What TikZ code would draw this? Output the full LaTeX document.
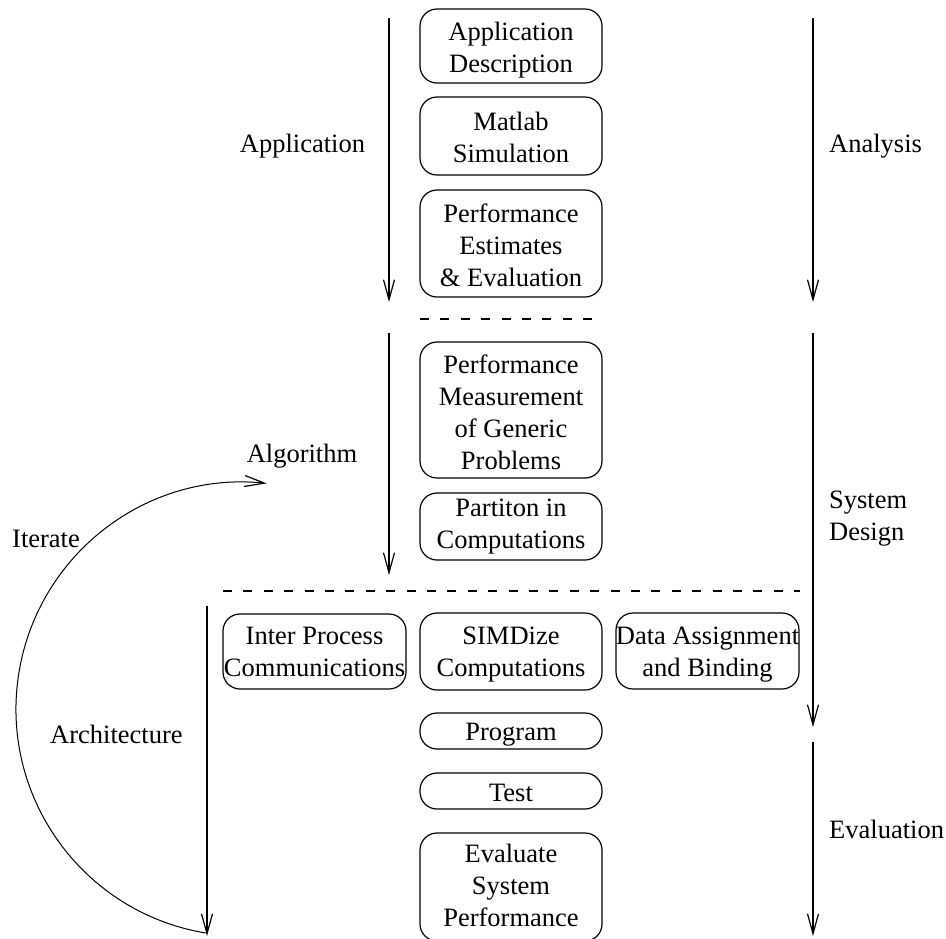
\documentclass[tikz,border=0pt]{standalone}
\usepackage{fontspec}
\setmainfont{Liberation Serif}
\usetikzlibrary{arrows.meta}
% a line that may stick out of its box, kept centred
\newcommand\ovr[1]{\makebox[0pt]{#1}}

\begin{document}
\begin{tikzpicture}[x=1pt,y=-1pt,
  every node/.style={font=\fontsize{26.5}{32}\selectfont},
  stage/.style={draw, line width=1.2pt, rounded corners=17pt, minimum width=182pt,
                inner sep=0pt},
  words/.style={inner sep=0pt, align=center},
  flow/.style={line width=1.2pt, -{Straight Barb[length=20pt,width=11pt,line width=1.2pt]}},
  sep/.style={line width=1.2pt, dash pattern=on 9pt off 11.4pt},
  tag/.style={inner sep=0pt},
]
\useasboundingbox (0,0) rectangle (946,938);

% ---- process steps (box, with its text set a little lower or higher) ----
\node[stage, minimum height=74pt,
      label={[words, yshift=-4pt]center:{Application\\Description}}]          (desc)    at (511,46)    {};
\node[stage, minimum height=78pt,
      label={[words, yshift=-1pt]center:{Matlab\\Simulation}}]                (matlab)  at (511,136)   {};
\node[stage, minimum height=107pt,
      label={[words, yshift=-1.5pt]center:{Performance\\Estimates\\\& Evaluation}}] (estim) at (511,243.5) {};
\node[stage, minimum height=136pt,
      label={[words, yshift=-2pt]center:{Performance\\Measurement\\of Generic\\Problems}}] (measure) at (511,410) {};
\node[stage, minimum height=67pt,
      label={[words]center:{Partiton in\\Computations}}]                      (part)    at (511,526.5) {};
\node[stage, minimum width=183pt, minimum height=75pt,
      label={[words, yshift=-0.5pt]center:{Inter Process\\\ovr{Communications}}}] (ipc) at (314.5,651.5) {};
\node[stage, minimum height=77pt,
      label={[words, yshift=-3.5pt]center:{SIMDize\\Computations}}]           (simd)    at (511,651.5) {};
\node[stage, minimum width=183pt, minimum height=76pt,
      label={[words, yshift=-4pt]center:{\ovr{Data Assignment}\\and Binding}}] (bind)   at (707.5,651) {};
\node[stage, minimum height=36pt,
      label={[words, yshift=-4pt]center:Program}]                              (prog)    at (511,731)   {};
\node[stage, minimum height=36pt,
      label={[words, yshift=-2pt]center:Test}]                                 (test)    at (511,791)   {};
\node[stage, minimum height=108pt,
      label={[words, yshift=2pt]center:{Evaluate\\System\\Performance}}]       (evalsys) at (511,887)   {};

% ---- phase separators ----------------------------------------------
\coordinate (s1a) at (420,319);  \coordinate (s1b) at (592,319);
\coordinate (s2a) at (223,591);  \coordinate (s2b) at (800,591);
\draw[sep] (s1a) -- (s1b);
\draw[sep] (s2a) -- (s2b);

% ---- phase arrows, left ----------------------------------------------
\coordinate (l1a) at (389,18);   \coordinate (l1b) at (389,302);
\coordinate (l2a) at (389,333);  \coordinate (l2b) at (389,575);
\coordinate (l3a) at (207,606);  \coordinate (l3b) at (207,936);
\draw[flow] (l1a) -- (l1b);
\draw[flow] (l2a) -- (l2b);
\draw[flow] (l3a) -- (l3b);

% ---- phase arrows, right ---------------------------------------------
\coordinate (r1a) at (813,18);   \coordinate (r1b) at (813,302);
\coordinate (r2a) at (813,333);  \coordinate (r2b) at (813,727);
\coordinate (r3a) at (813,742);  \coordinate (r3b) at (813,936);
\draw[flow] (r1a) -- (r1b);
\draw[flow] (r2a) -- (r2b);
\draw[flow] (r3a) -- (r3b);

% ---- iteration loop ----------------------------------------------------
\coordinate (itS) at (205.5,933);
\draw[flow, line width=1pt] (itS) arc[start angle=99.5, end angle=276, radius=227];

% ---- phase labels --------------------------------------------------------
\node[tag, anchor=base]       (lapp)  at (302.5,152) {Application};
\node[tag, anchor=base]       (lalg)  at (302,462)   {Algorithm};
\node[tag, anchor=base west]  (liter) at (12,547)    {Iterate};
\node[tag, anchor=base west]  (larch) at (50,743)    {Architecture};
\node[tag, anchor=base west]  (lana)  at (829,152)   {Analysis};
\node[tag, anchor=west, align=left] (lsys) at (829,519) {System\\Design};
\node[tag, anchor=base west]  (leval) at (829,838)   {Evaluation};
\end{tikzpicture}
\end{document}
